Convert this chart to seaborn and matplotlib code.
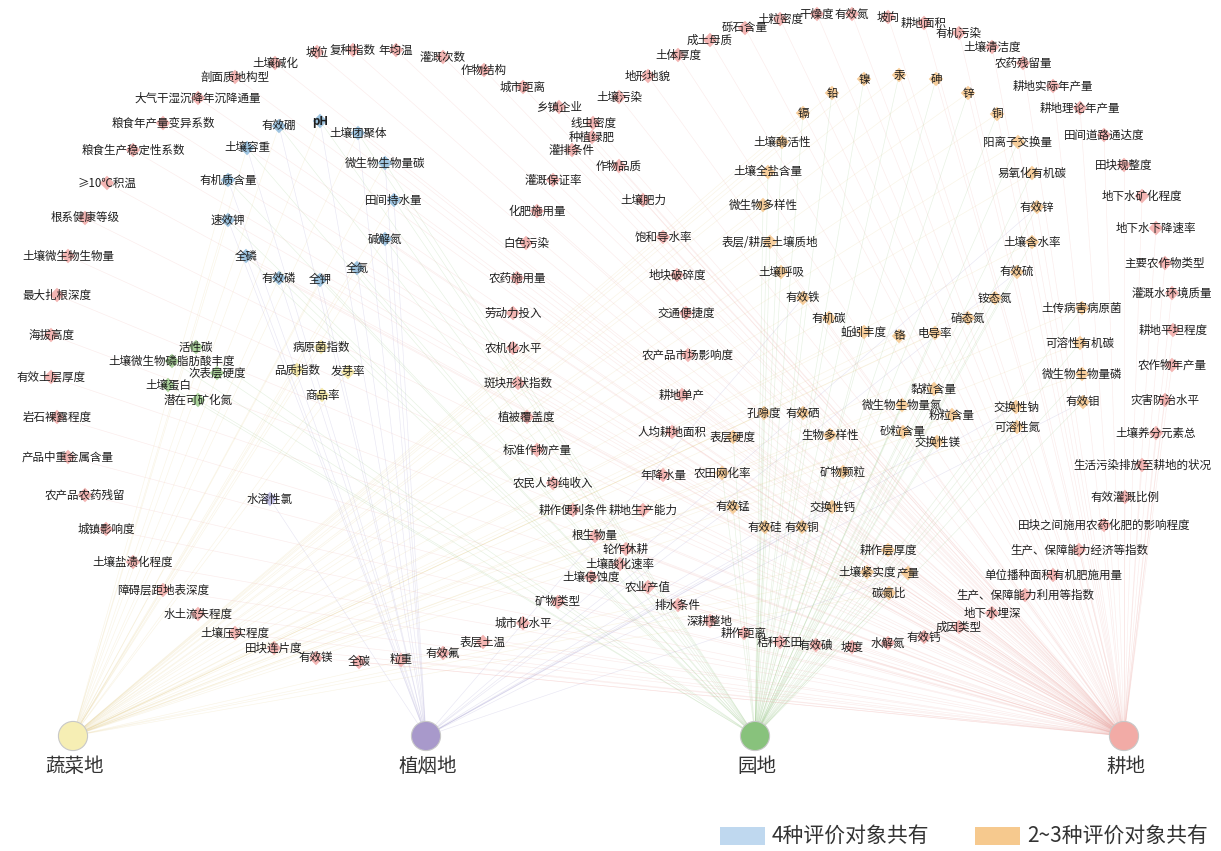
import matplotlib
matplotlib.use('Agg')
import matplotlib.pyplot as plt
import seaborn as sns
import pandas as pd
from matplotlib.collections import LineCollection
from matplotlib.patches import Rectangle

sns.set_theme(style='white')
plt.rcParams['font.family'] = ['Noto Sans CJK SC', 'DejaVu Sans']
plt.rcParams['axes.unicode_minus'] = False

# ---------------- hubs (evaluation objects) ----------------
hub_names = ['蔬菜地', '植烟地', '园地', '耕地']
hub_codes = ['S', 'Y', 'G', 'F']
hub_x = [73, 426, 755, 1124]
hub_y = [736, 736, 736, 736]
hub_colors = ['#f6eeb4', '#a899cb', '#88c27c', '#f2aba6']
edge_colors = ['#e6cf8c', '#9a92cc', '#8fc27c', '#eea9a4']

# ---------------- indicators: 耕地 only ----------------
f_names = ['土壤碱化', '剖面质地构型', '大气干湿沉降年沉降通量', '粮食年产量变异系数', '粮食生产稳定性系数',
           '≥10℃积温', '根系健康等级', '土壤微生物生物量', '最大扎根深度', '海拔高度', '有效土层厚度',
           '岩石裸露程度', '产品中重金属含量', '农产品农药残留', '城镇影响度', '土壤盐渍化程度',
           '障碍层距地表深度', '水土流失程度', '土壤压实程度', '田块连片度', '有效镁', '全碳', '粒重',
           '有效氟', '表层土温', '城市化水平', '矿物类型', '土壤侵蚀度', '土壤酸化速率', '轮作休耕',
           '根生物量', '耕作便利条件', '农民人均纯收入', '标准作物产量', '植被覆盖度', '斑块形状指数',
           '农机化水平', '劳动力投入', '农药施用量', '白色污染', '化肥施用量', '灌溉保证率', '灌排条件',
           '种植绿肥', '线虫密度', '乡镇企业', '城市距离', '作物结构', '灌溉次数', '年均温', '复种指数',
           '坡位', '土壤污染', '地形地貌', '土体厚度', '成土母质', '砾石含量', '土粒密度', '干燥度',
           '有效氮', '坡向', '耕地面积', '有机污染', '土壤清洁度', '农药残留量', '耕地实际年产量',
           '耕地理论年产量', '田间道路通达度', '田块规整度', '地下水矿化程度', '地下水下降速率',
           '主要农作物类型', '灌溉水环境质量', '耕地平坦程度', '农作物年产量', '灾害防治水平',
           '土壤养分元素总', '生活污染排放至耕地的状况', '有效灌溉比例', '田块之间施用农药化肥的影响程度',
           '生产、保障能力经济等指数', '单位播种面积有机肥施用量', '生产、保障能力利用等指数', '地下水埋深',
           '成因类型', '有效钙', '水解氮', '坡度', '有效碘', '秸秆还田', '耕作距离', '深耕整地', '排水条件',
           '农业产值', '耕地生产能力', '年降水量', '人均耕地面积', '耕地单产', '农产品市场影响度',
           '交通便捷度', '地块破碎度', '饱和导水率', '土壤肥力', '作物品质']
f_x = [275, 235, 198, 163, 133, 107, 85, 68, 57, 51, 51, 57, 68, 85, 106, 133, 163, 198, 235, 274, 316, 359, 401,
       443, 483, 523, 558, 591, 620, 626, 595, 573, 553, 537, 527, 518, 513, 513, 517, 526, 537, 553, 572, 592, 593,
       559, 523, 484, 443, 396, 353, 317, 619, 648, 678, 710, 745, 780, 817, 852, 888, 924, 959, 992, 1023, 1053,
       1080, 1104, 1124, 1142, 1156, 1165, 1172, 1173, 1172, 1165, 1156, 1142, 1125, 1104, 1079, 1053, 1025, 992,
       959, 924, 888, 852, 816, 780, 744, 710, 678, 648, 643, 663, 672, 682, 688, 686, 677, 663, 643, 619]
f_y = [63, 77, 98, 123, 150, 183, 218, 256, 295, 335, 377, 417, 457, 495, 529, 562, 590, 614, 633, 648, 658, 662,
       660, 653, 642, 623, 602, 577, 564, 549, 536, 510, 483, 450, 417, 383, 348, 313, 278, 243, 211, 180, 150, 137,
       123, 107, 87, 70, 57, 50, 50, 52, 97, 76, 55, 40, 28, 19, 14, 14, 17, 23, 33, 47, 63, 86, 108, 135, 165, 196,
       228, 263, 293, 330, 365, 400, 433, 465, 497, 525, 550, 575, 595, 613, 627, 637, 643, 647, 645, 642, 633, 621,
       605, 587, 510, 475, 432, 395, 355, 313, 275, 237, 200, 166]

# ---------------- indicators shared by all 4 ----------------
b_names = ['pH', '有效硼', '土壤团聚体', '土壤容重', '微生物生物量碳', '有机质含量', '田间持水量', '速效钾',
           '碱解氮', '全磷', '全氮', '有效磷', '全钾']
b_x = [320, 279, 358, 247, 385, 228, 394, 228, 385, 246, 357, 279, 320]
b_y = [121, 126, 133, 148, 163, 180, 200, 220, 239, 256, 268, 278, 280]

# ---------------- 园地 only ----------------
g_names = ['活性碳', '土壤微生物磷脂肪酸丰度', '次表层硬度', '土壤蛋白', '潜在可矿化氮']
g_x = [196, 172, 217, 168, 198]
g_y = [347, 361, 373, 385, 400]

# ---------------- 蔬菜地 only ----------------
s_names = ['病原菌指数', '品质指数', '发芽率', '商品率']
s_x = [321, 297, 348, 322]
s_y = [347, 370, 372, 395]

# ---------------- 植烟地 only ----------------
y_names = ['水溶性氯']
y_x = [270]
y_y = [499]

# ---------------- shared by 2~3 ----------------
o_names = ['镉', '铅', '镍', '汞', '砷', '锌', '铜', '土壤酶活性', '土壤全盐含量', '微生物多样性', '阳离子交换量',
           '易氧化有机碳', '有效锌', '表层/耕层土壤质地', '土壤含水率', '土壤呼吸', '有效硫', '有效铁', '铵态氮',
           '有机碳', '硝态氮', '土传病害病原菌', '蚯蚓丰度', '铬', '电导率', '可溶性有机碳', '微生物生物量磷',
           '黏粒含量', '有效钼', '微生物生物量氮', '交换性钠', '孔隙度', '有效硒', '粉粒含量', '可溶性氮',
           '砂粒含量', '表层硬度', '生物多样性', '交换性镁', '农田网化率', '矿物颗粒', '有效锰', '交换性钙',
           '有效硅', '有效铜', '耕作层厚度', '土壤紧实度', '产量', '碳氮比']
o_x = [803, 832, 864, 899, 936, 968, 997, 782, 768, 763, 1018, 1032, 1037, 770, 1032, 781, 1017, 803, 995, 829,
       968, 1082, 864, 899, 935, 1080, 1082, 934, 1083, 902, 1016, 764, 803, 952, 1017, 903, 733, 830, 937, 722,
       843, 733, 832, 765, 802, 888, 867, 908, 889]
o_y = [113, 93, 79, 75, 79, 93, 114, 142, 172, 205, 142, 173, 207, 242, 242, 272, 272, 298, 298, 318, 318, 308,
       332, 336, 333, 343, 374, 389, 402, 405, 407, 413, 413, 415, 427, 432, 437, 435, 442, 473, 472, 507, 507, 527,
       527, 550, 572, 573, 593]
o_links = ['SGF', 'SGF', 'SGF', 'SGF', 'SGF', 'SGF', 'SGF', 'SG', 'SG', 'SG', 'SGF', 'SG', 'YGF', 'SGF', 'SG', 'SG',
           'YG', 'YGF', 'SG', 'SG', 'SG', 'SG', 'SG', 'SGF', 'SG', 'SG', 'SG', 'SG', 'YG', 'SG', 'YG', 'SG', 'GF',
           'SG', 'SG', 'SG', 'SG', 'GF', 'YG', 'GF', 'SG', 'YG', 'YG', 'YGF', 'YG', 'SGF', 'SG', 'SGY', 'SG']

# ---------------- assemble ----------------
frames = [
    pd.DataFrame({'name': f_names, 'x': f_x, 'y': f_y, 'group': 'F', 'links': 'F'}),
    pd.DataFrame({'name': b_names, 'x': b_x, 'y': b_y, 'group': 'B', 'links': 'SYGF'}),
    pd.DataFrame({'name': g_names, 'x': g_x, 'y': g_y, 'group': 'G', 'links': 'G'}),
    pd.DataFrame({'name': s_names, 'x': s_x, 'y': s_y, 'group': 'S', 'links': 'S'}),
    pd.DataFrame({'name': y_names, 'x': y_x, 'y': y_y, 'group': 'Y', 'links': 'Y'}),
    pd.DataFrame({'name': o_names, 'x': o_x, 'y': o_y, 'group': 'O', 'links': o_links}),
]
nodes = pd.concat(frames, ignore_index=True)
hubs = pd.DataFrame({'name': hub_names, 'code': hub_codes, 'x': hub_x, 'y': hub_y})

node_palette = {'F': '#f0a3a0', 'B': '#86b6d9', 'G': '#97c985', 'S': '#f1e294', 'Y': '#b3b1de', 'O': '#f5c283'}

fig = plt.figure(figsize=(12.21, 8.51), dpi=100)
ax = fig.add_axes([0, 0, 1, 1])

# edges
for code, hx, hy, ec in zip(hub_codes, hub_x, hub_y, edge_colors):
    sub = nodes[nodes['links'].str.contains(code)]
    segs = [[(hx, hy), (nx, ny)] for nx, ny in zip(sub['x'], sub['y'])]
    lc = LineCollection(segs, colors=ec, linewidths=0.45, alpha=0.22, zorder=1)
    ax.add_collection(lc)

# indicator nodes
sns.scatterplot(data=nodes, x='x', y='y', hue='group', palette=node_palette, marker='D', s=55,
                alpha=0.8, linewidth=0, legend=False, ax=ax, zorder=2)
for _, r in nodes.iterrows():
    ax.text(r['x'], r['y'], r['name'], ha='center', va='center', fontsize=8.3,
            color='#1e1e1e', zorder=3, fontweight='bold' if r['name'] == 'pH' else 'normal')

# hub nodes
sns.scatterplot(data=hubs, x='x', y='y', hue='code', palette=dict(zip(hub_codes, hub_colors)), s=440,
                edgecolor='#c8c8c8', linewidth=0.8, legend=False, ax=ax, zorder=4)
for _, r in hubs.iterrows():
    ax.text(r['x'] + 2, r['y'] + 30, r['name'], ha='center', va='center', fontsize=14, color='#333333', zorder=5)

# legend
leg_labels = ['4种评价对象共有', '2~3种评价对象共有']
leg_colors = ['#bfd8ef', '#f6c98e']
leg_x = [720, 975]
for lx, lab, col in zip(leg_x, leg_labels, leg_colors):
    ax.add_patch(Rectangle((lx, 827), 45, 18, facecolor=col, edgecolor='none', zorder=5))
    ax.text(lx + 52, 836, lab, ha='left', va='center', fontsize=15, color='#333333', zorder=5)

ax.set_xlim(0, 1221)
ax.set_ylim(851, 0)
ax.axis('off')
fig.savefig('out.png', dpi=100, facecolor='white')
